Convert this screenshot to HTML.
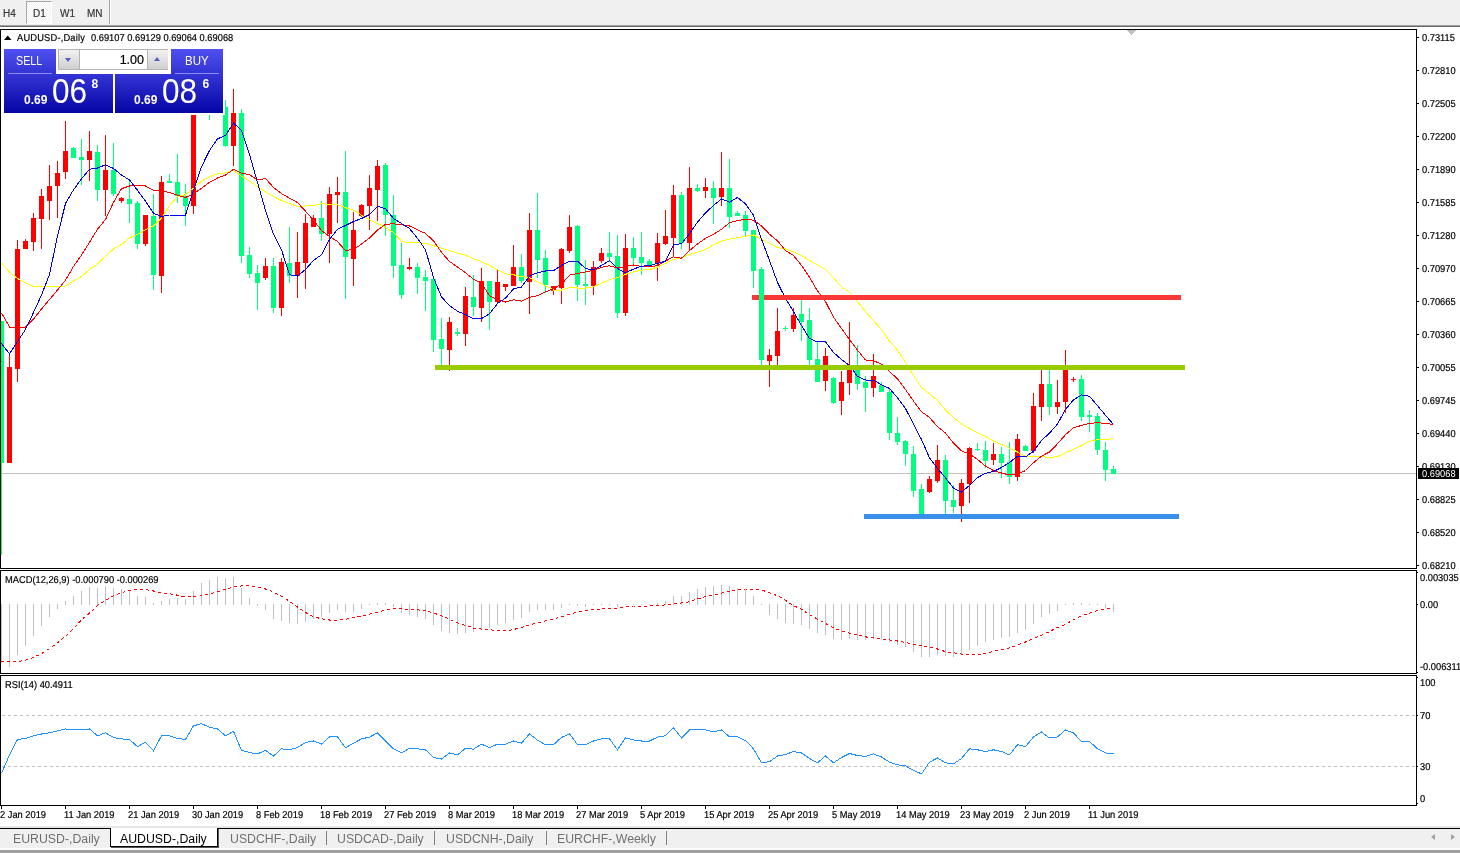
<!DOCTYPE html>
<html><head><meta charset="utf-8"><title>AUDUSD-,Daily</title>
<style>
html,body{margin:0;padding:0}
body{width:1460px;height:853px;position:relative;overflow:hidden;background:#fff;font-family:"Liberation Sans",sans-serif;font-size:9.3px;color:#000;-webkit-text-stroke:.2px currentColor}
.a{position:absolute;white-space:nowrap;line-height:1}
#tb{left:0;top:0;width:1460px;height:25px;background:#f0f0f0}
#tbl{left:0;top:25px;width:1460px;height:1px;background:#a0a0a0;border-bottom:1px solid #696969}
.tbt{top:8.5px;font-size:10px;color:#383838}
#d1{left:26px;top:1px;width:24px;height:21px;border:1px solid #a8a8a8;border-right-color:#fff;border-bottom-color:#fff;background:repeating-conic-gradient(#fff 0 25%,#f0f0f0 0 50%) 0 0/2px 2px}
#sep{left:109px;top:0;width:1px;height:24px;background:#a0a0a0;border-right:1px solid #fff}
svg{position:absolute;left:0;top:0}
.ax,.dt,#ttl,#ttl2,#mlab,#rlab{font-size:10px;text-rendering:geometricPrecision;transform:scaleX(.93);transform-origin:left center}
.ax{left:1422px}
.dt{top:810.8px}
#bb{left:0;top:826px;width:1460px;height:27px;background:#f0f0f0;border-top:2px solid #e6e6e6;box-sizing:border-box}
#bbl{left:0;top:828px;width:1460px;height:1px;background:#000}
#bbw{left:0;top:848px;width:1460px;height:2px;background:#fcfcfc}
#bbg{left:0;top:850px;width:1460px;height:3px;background:#a0a0a0}
.tab{-webkit-text-stroke:0;top:833px;font-size:12.3px;color:#707070}
#act{left:110px;top:828px;width:106px;height:18px;background:#fff;border:1px solid #000;border-top:none;box-shadow:1px 1px 0 #555}
.sp{top:831px;width:1px;height:14px;background:#808080}
.pn{background:linear-gradient(#5050f0,#0505a6)}
.w{color:#fff;-webkit-text-stroke:0}
.sx{transform-origin:left center}
</style></head><body>
<div class="a" id="tb"></div><div class="a" id="tbl"></div>
<div class="a" id="d1"></div>
<div class="a tbt" style="left:3px">H4</div>
<div class="a tbt" style="left:33px">D1</div>
<div class="a tbt" style="left:60px">W1</div>
<div class="a tbt" style="left:87px">MN</div>
<div class="a" id="sep"></div>
<div class="a" id="bb"></div><div class="a" id="bbl"></div><div class="a" id="bbw"></div><div class="a" id="bbg"></div>

<svg width="1460" height="853" viewBox="0 0 1460 853"><defs><clipPath id="cm"><rect x="1" y="30" width="1415" height="538"/></clipPath><clipPath id="c2"><rect x="1" y="571" width="1415" height="102"/></clipPath><clipPath id="c3"><rect x="1" y="676" width="1415" height="129"/></clipPath></defs><g shape-rendering="crispEdges"><rect x="0" y="29" width="1417" height="1" fill="#000"/><rect x="0" y="29" width="1" height="777" fill="#000"/><rect x="1416" y="29" width="1" height="777" fill="#000"/><rect x="0" y="568" width="1417" height="1" fill="#000"/><rect x="0" y="570" width="1417" height="1" fill="#000"/><rect x="0" y="673" width="1417" height="1" fill="#000"/><rect x="0" y="675" width="1417" height="1" fill="#000"/><rect x="0" y="805" width="1417" height="1" fill="#000"/><rect x="0" y="569" width="1418" height="1" fill="#fff"/><rect x="0" y="674" width="1418" height="1" fill="#fff"/><rect x="1" y="473" width="1415" height="1" fill="#c0c0c0"/><polygon points="1126.5,30 1136.5,30 1131.5,35" fill="#c0c0c0"/><polygon points="4,40 11.5,40 7.75,35.5" fill="#000" shape-rendering="auto"/><g clip-path="url(#cm)"><rect x="1" y="321" width="1" height="234" fill="#00ff7f"/><rect x="-1" y="321" width="5" height="142" fill="#00ff7f"/><rect x="9" y="353" width="1" height="110" fill="#ff0000"/><rect x="7" y="367" width="5" height="96" fill="#ff0000"/><rect x="17" y="240" width="1" height="142" fill="#ff0000"/><rect x="15" y="249" width="5" height="120" fill="#ff0000"/><rect x="25" y="239" width="1" height="10" fill="#ff0000"/><rect x="23" y="241" width="5" height="8" fill="#ff0000"/><rect x="33" y="213" width="1" height="38" fill="#ff0000"/><rect x="31" y="218" width="5" height="24" fill="#ff0000"/><rect x="41" y="189" width="1" height="60" fill="#ff0000"/><rect x="39" y="196" width="5" height="23" fill="#ff0000"/><rect x="49" y="165" width="1" height="55" fill="#ff0000"/><rect x="47" y="186" width="5" height="15" fill="#ff0000"/><rect x="57" y="161" width="1" height="57" fill="#ff0000"/><rect x="55" y="173" width="5" height="13" fill="#ff0000"/><rect x="65" y="121" width="1" height="58" fill="#ff0000"/><rect x="63" y="151" width="5" height="21" fill="#ff0000"/><rect x="73" y="147" width="1" height="11" fill="#00ff7f"/><rect x="71" y="148" width="5" height="10" fill="#00ff7f"/><rect x="81" y="139" width="1" height="46" fill="#00ff7f"/><rect x="79" y="157" width="5" height="3" fill="#00ff7f"/><rect x="89" y="131" width="1" height="50" fill="#ff0000"/><rect x="87" y="151" width="5" height="9" fill="#ff0000"/><rect x="97" y="145" width="1" height="56" fill="#00ff7f"/><rect x="95" y="152" width="5" height="38" fill="#00ff7f"/><rect x="105" y="135" width="1" height="81" fill="#ff0000"/><rect x="103" y="170" width="5" height="20" fill="#ff0000"/><rect x="113" y="143" width="1" height="53" fill="#00ff7f"/><rect x="111" y="170" width="5" height="24" fill="#00ff7f"/><rect x="121" y="197" width="1" height="6" fill="#ff0000"/><rect x="119" y="198" width="5" height="3" fill="#ff0000"/><rect x="129" y="180" width="1" height="43" fill="#00ff7f"/><rect x="127" y="199" width="5" height="5" fill="#00ff7f"/><rect x="137" y="201" width="1" height="48" fill="#00ff7f"/><rect x="135" y="203" width="5" height="41" fill="#00ff7f"/><rect x="145" y="215" width="1" height="31" fill="#ff0000"/><rect x="143" y="215" width="5" height="29" fill="#ff0000"/><rect x="153" y="194" width="1" height="96" fill="#00ff7f"/><rect x="151" y="216" width="5" height="59" fill="#00ff7f"/><rect x="161" y="176" width="1" height="117" fill="#ff0000"/><rect x="159" y="182" width="5" height="94" fill="#ff0000"/><rect x="169" y="174" width="1" height="9" fill="#00ff7f"/><rect x="167" y="181" width="5" height="2" fill="#00ff7f"/><rect x="177" y="154" width="1" height="49" fill="#00ff7f"/><rect x="175" y="182" width="5" height="14" fill="#00ff7f"/><rect x="185" y="184" width="1" height="42" fill="#00ff7f"/><rect x="183" y="196" width="5" height="10" fill="#00ff7f"/><rect x="193" y="100" width="1" height="114" fill="#ff0000"/><rect x="191" y="105" width="5" height="101" fill="#ff0000"/><rect x="201" y="95" width="1" height="13" fill="#00ff7f"/><rect x="199" y="100" width="5" height="4" fill="#00ff7f"/><rect x="209" y="98" width="1" height="22" fill="#00ff7f"/><rect x="207" y="104" width="5" height="4" fill="#00ff7f"/><rect x="217" y="96" width="1" height="14" fill="#00ff7f"/><rect x="215" y="106" width="5" height="2" fill="#00ff7f"/><rect x="225" y="100" width="1" height="47" fill="#00ff7f"/><rect x="223" y="107" width="5" height="39" fill="#00ff7f"/><rect x="233" y="89" width="1" height="77" fill="#ff0000"/><rect x="231" y="113" width="5" height="33" fill="#ff0000"/><rect x="241" y="109" width="1" height="154" fill="#00ff7f"/><rect x="239" y="113" width="5" height="143" fill="#00ff7f"/><rect x="249" y="247" width="1" height="31" fill="#00ff7f"/><rect x="247" y="255" width="5" height="19" fill="#00ff7f"/><rect x="257" y="265" width="1" height="45" fill="#00ff7f"/><rect x="255" y="273" width="5" height="10" fill="#00ff7f"/><rect x="265" y="258" width="1" height="22" fill="#ff0000"/><rect x="263" y="266" width="5" height="12" fill="#ff0000"/><rect x="273" y="258" width="1" height="55" fill="#00ff7f"/><rect x="271" y="266" width="5" height="42" fill="#00ff7f"/><rect x="281" y="258" width="1" height="58" fill="#ff0000"/><rect x="279" y="262" width="5" height="46" fill="#ff0000"/><rect x="289" y="227" width="1" height="56" fill="#00ff7f"/><rect x="287" y="263" width="5" height="13" fill="#00ff7f"/><rect x="297" y="232" width="1" height="66" fill="#ff0000"/><rect x="295" y="262" width="5" height="14" fill="#ff0000"/><rect x="305" y="214" width="1" height="75" fill="#ff0000"/><rect x="303" y="223" width="5" height="40" fill="#ff0000"/><rect x="313" y="215" width="1" height="12" fill="#ff0000"/><rect x="311" y="218" width="5" height="9" fill="#ff0000"/><rect x="321" y="201" width="1" height="40" fill="#00ff7f"/><rect x="319" y="218" width="5" height="16" fill="#00ff7f"/><rect x="329" y="187" width="1" height="76" fill="#ff0000"/><rect x="327" y="194" width="5" height="40" fill="#ff0000"/><rect x="337" y="177" width="1" height="46" fill="#ff0000"/><rect x="335" y="192" width="5" height="3" fill="#ff0000"/><rect x="345" y="151" width="1" height="148" fill="#00ff7f"/><rect x="343" y="192" width="5" height="65" fill="#00ff7f"/><rect x="353" y="212" width="1" height="74" fill="#ff0000"/><rect x="351" y="230" width="5" height="29" fill="#ff0000"/><rect x="361" y="204" width="1" height="13" fill="#ff0000"/><rect x="359" y="205" width="5" height="11" fill="#ff0000"/><rect x="369" y="175" width="1" height="55" fill="#ff0000"/><rect x="367" y="188" width="5" height="18" fill="#ff0000"/><rect x="377" y="160" width="1" height="61" fill="#ff0000"/><rect x="375" y="166" width="5" height="24" fill="#ff0000"/><rect x="385" y="163" width="1" height="73" fill="#00ff7f"/><rect x="383" y="165" width="5" height="50" fill="#00ff7f"/><rect x="393" y="195" width="1" height="83" fill="#00ff7f"/><rect x="391" y="215" width="5" height="51" fill="#00ff7f"/><rect x="401" y="243" width="1" height="56" fill="#00ff7f"/><rect x="399" y="265" width="5" height="30" fill="#00ff7f"/><rect x="409" y="258" width="1" height="12" fill="#ff0000"/><rect x="407" y="267" width="5" height="2" fill="#ff0000"/><rect x="417" y="263" width="1" height="31" fill="#00ff7f"/><rect x="415" y="267" width="5" height="11" fill="#00ff7f"/><rect x="425" y="270" width="1" height="41" fill="#00ff7f"/><rect x="423" y="277" width="5" height="4" fill="#00ff7f"/><rect x="433" y="279" width="1" height="73" fill="#00ff7f"/><rect x="431" y="279" width="5" height="61" fill="#00ff7f"/><rect x="441" y="318" width="1" height="47" fill="#00ff7f"/><rect x="439" y="339" width="5" height="10" fill="#00ff7f"/><rect x="449" y="317" width="1" height="54" fill="#ff0000"/><rect x="447" y="322" width="5" height="28" fill="#ff0000"/><rect x="457" y="328" width="1" height="8" fill="#00ff7f"/><rect x="455" y="332" width="5" height="2" fill="#00ff7f"/><rect x="465" y="287" width="1" height="59" fill="#ff0000"/><rect x="463" y="296" width="5" height="38" fill="#ff0000"/><rect x="473" y="275" width="1" height="41" fill="#00ff7f"/><rect x="471" y="297" width="5" height="10" fill="#00ff7f"/><rect x="481" y="268" width="1" height="54" fill="#ff0000"/><rect x="479" y="281" width="5" height="27" fill="#ff0000"/><rect x="489" y="281" width="1" height="49" fill="#00ff7f"/><rect x="487" y="281" width="5" height="21" fill="#00ff7f"/><rect x="497" y="270" width="1" height="33" fill="#ff0000"/><rect x="495" y="282" width="5" height="20" fill="#ff0000"/><rect x="505" y="284" width="1" height="7" fill="#ff0000"/><rect x="503" y="284" width="5" height="3" fill="#ff0000"/><rect x="513" y="245" width="1" height="41" fill="#ff0000"/><rect x="511" y="267" width="5" height="19" fill="#ff0000"/><rect x="521" y="254" width="1" height="29" fill="#00ff7f"/><rect x="519" y="267" width="5" height="14" fill="#00ff7f"/><rect x="529" y="213" width="1" height="101" fill="#ff0000"/><rect x="527" y="230" width="5" height="52" fill="#ff0000"/><rect x="537" y="193" width="1" height="85" fill="#00ff7f"/><rect x="535" y="230" width="5" height="30" fill="#00ff7f"/><rect x="545" y="250" width="1" height="43" fill="#00ff7f"/><rect x="543" y="258" width="5" height="27" fill="#00ff7f"/><rect x="553" y="286" width="1" height="9" fill="#ff0000"/><rect x="551" y="286" width="5" height="5" fill="#ff0000"/><rect x="561" y="248" width="1" height="56" fill="#ff0000"/><rect x="559" y="249" width="5" height="39" fill="#ff0000"/><rect x="569" y="215" width="1" height="38" fill="#ff0000"/><rect x="567" y="227" width="5" height="24" fill="#ff0000"/><rect x="577" y="225" width="1" height="76" fill="#00ff7f"/><rect x="575" y="226" width="5" height="59" fill="#00ff7f"/><rect x="585" y="260" width="1" height="45" fill="#00ff7f"/><rect x="583" y="284" width="5" height="2" fill="#00ff7f"/><rect x="593" y="261" width="1" height="34" fill="#ff0000"/><rect x="591" y="267" width="5" height="19" fill="#ff0000"/><rect x="601" y="248" width="1" height="15" fill="#ff0000"/><rect x="599" y="253" width="5" height="8" fill="#ff0000"/><rect x="609" y="232" width="1" height="30" fill="#00ff7f"/><rect x="607" y="253" width="5" height="4" fill="#00ff7f"/><rect x="617" y="235" width="1" height="83" fill="#00ff7f"/><rect x="615" y="256" width="5" height="57" fill="#00ff7f"/><rect x="625" y="234" width="1" height="82" fill="#ff0000"/><rect x="623" y="248" width="5" height="65" fill="#ff0000"/><rect x="633" y="237" width="1" height="27" fill="#00ff7f"/><rect x="631" y="248" width="5" height="10" fill="#00ff7f"/><rect x="641" y="232" width="1" height="43" fill="#00ff7f"/><rect x="639" y="257" width="5" height="6" fill="#00ff7f"/><rect x="649" y="259" width="1" height="8" fill="#00ff7f"/><rect x="647" y="261" width="5" height="5" fill="#00ff7f"/><rect x="657" y="233" width="1" height="48" fill="#ff0000"/><rect x="655" y="243" width="5" height="20" fill="#ff0000"/><rect x="665" y="210" width="1" height="35" fill="#ff0000"/><rect x="663" y="236" width="5" height="8" fill="#ff0000"/><rect x="673" y="185" width="1" height="72" fill="#ff0000"/><rect x="671" y="195" width="5" height="43" fill="#ff0000"/><rect x="681" y="192" width="1" height="57" fill="#00ff7f"/><rect x="679" y="195" width="5" height="48" fill="#00ff7f"/><rect x="689" y="167" width="1" height="83" fill="#ff0000"/><rect x="687" y="188" width="5" height="55" fill="#ff0000"/><rect x="697" y="184" width="1" height="8" fill="#00ff7f"/><rect x="695" y="188" width="5" height="3" fill="#00ff7f"/><rect x="705" y="178" width="1" height="20" fill="#ff0000"/><rect x="703" y="187" width="5" height="4" fill="#ff0000"/><rect x="713" y="181" width="1" height="43" fill="#00ff7f"/><rect x="711" y="188" width="5" height="10" fill="#00ff7f"/><rect x="721" y="152" width="1" height="54" fill="#ff0000"/><rect x="719" y="188" width="5" height="9" fill="#ff0000"/><rect x="729" y="159" width="1" height="69" fill="#00ff7f"/><rect x="727" y="188" width="5" height="29" fill="#00ff7f"/><rect x="737" y="211" width="1" height="5" fill="#00ff7f"/><rect x="735" y="213" width="5" height="3" fill="#00ff7f"/><rect x="745" y="211" width="1" height="26" fill="#00ff7f"/><rect x="743" y="215" width="5" height="16" fill="#00ff7f"/><rect x="753" y="230" width="1" height="58" fill="#00ff7f"/><rect x="751" y="230" width="5" height="41" fill="#00ff7f"/><rect x="761" y="267" width="1" height="98" fill="#00ff7f"/><rect x="759" y="269" width="5" height="91" fill="#00ff7f"/><rect x="769" y="349" width="1" height="38" fill="#ff0000"/><rect x="767" y="355" width="5" height="6" fill="#ff0000"/><rect x="777" y="308" width="1" height="57" fill="#ff0000"/><rect x="775" y="331" width="5" height="25" fill="#ff0000"/><rect x="785" y="326" width="1" height="5" fill="#00ff7f"/><rect x="783" y="328" width="5" height="1" fill="#00ff7f"/><rect x="793" y="308" width="1" height="24" fill="#ff0000"/><rect x="791" y="315" width="5" height="14" fill="#ff0000"/><rect x="801" y="300" width="1" height="41" fill="#00ff7f"/><rect x="799" y="314" width="5" height="8" fill="#00ff7f"/><rect x="809" y="308" width="1" height="57" fill="#00ff7f"/><rect x="807" y="320" width="5" height="40" fill="#00ff7f"/><rect x="817" y="342" width="1" height="40" fill="#00ff7f"/><rect x="815" y="359" width="5" height="23" fill="#00ff7f"/><rect x="825" y="348" width="1" height="43" fill="#ff0000"/><rect x="823" y="356" width="5" height="25" fill="#ff0000"/><rect x="833" y="377" width="1" height="27" fill="#00ff7f"/><rect x="831" y="378" width="5" height="25" fill="#00ff7f"/><rect x="841" y="371" width="1" height="44" fill="#ff0000"/><rect x="839" y="382" width="5" height="19" fill="#ff0000"/><rect x="849" y="322" width="1" height="73" fill="#ff0000"/><rect x="847" y="366" width="5" height="17" fill="#ff0000"/><rect x="857" y="345" width="1" height="45" fill="#00ff7f"/><rect x="855" y="366" width="5" height="18" fill="#00ff7f"/><rect x="865" y="376" width="1" height="36" fill="#00ff7f"/><rect x="863" y="382" width="5" height="6" fill="#00ff7f"/><rect x="873" y="354" width="1" height="43" fill="#ff0000"/><rect x="871" y="376" width="5" height="12" fill="#ff0000"/><rect x="881" y="382" width="1" height="10" fill="#00ff7f"/><rect x="879" y="385" width="5" height="7" fill="#00ff7f"/><rect x="889" y="389" width="1" height="51" fill="#00ff7f"/><rect x="887" y="392" width="5" height="41" fill="#00ff7f"/><rect x="897" y="417" width="1" height="28" fill="#00ff7f"/><rect x="895" y="433" width="5" height="9" fill="#00ff7f"/><rect x="905" y="440" width="1" height="26" fill="#00ff7f"/><rect x="903" y="441" width="5" height="13" fill="#00ff7f"/><rect x="913" y="446" width="1" height="51" fill="#00ff7f"/><rect x="911" y="454" width="5" height="37" fill="#00ff7f"/><rect x="921" y="484" width="1" height="32" fill="#00ff7f"/><rect x="919" y="489" width="5" height="27" fill="#00ff7f"/><rect x="929" y="476" width="1" height="17" fill="#ff0000"/><rect x="927" y="479" width="5" height="13" fill="#ff0000"/><rect x="937" y="445" width="1" height="38" fill="#ff0000"/><rect x="935" y="460" width="5" height="21" fill="#ff0000"/><rect x="945" y="455" width="1" height="60" fill="#00ff7f"/><rect x="943" y="460" width="5" height="41" fill="#00ff7f"/><rect x="953" y="485" width="1" height="28" fill="#00ff7f"/><rect x="951" y="500" width="5" height="7" fill="#00ff7f"/><rect x="961" y="479" width="1" height="43" fill="#ff0000"/><rect x="959" y="483" width="5" height="23" fill="#ff0000"/><rect x="969" y="447" width="1" height="56" fill="#ff0000"/><rect x="967" y="448" width="5" height="36" fill="#ff0000"/><rect x="977" y="443" width="1" height="8" fill="#00ff7f"/><rect x="975" y="449" width="5" height="1" fill="#00ff7f"/><rect x="985" y="441" width="1" height="27" fill="#00ff7f"/><rect x="983" y="450" width="5" height="11" fill="#00ff7f"/><rect x="993" y="443" width="1" height="22" fill="#ff0000"/><rect x="991" y="454" width="5" height="6" fill="#ff0000"/><rect x="1001" y="447" width="1" height="31" fill="#00ff7f"/><rect x="999" y="454" width="5" height="9" fill="#00ff7f"/><rect x="1009" y="442" width="1" height="42" fill="#00ff7f"/><rect x="1007" y="462" width="5" height="15" fill="#00ff7f"/><rect x="1017" y="434" width="1" height="47" fill="#ff0000"/><rect x="1015" y="439" width="5" height="38" fill="#ff0000"/><rect x="1025" y="445" width="1" height="6" fill="#00ff7f"/><rect x="1023" y="446" width="5" height="5" fill="#00ff7f"/><rect x="1033" y="393" width="1" height="60" fill="#ff0000"/><rect x="1031" y="406" width="5" height="45" fill="#ff0000"/><rect x="1041" y="366" width="1" height="55" fill="#ff0000"/><rect x="1039" y="384" width="5" height="23" fill="#ff0000"/><rect x="1049" y="366" width="1" height="49" fill="#00ff7f"/><rect x="1047" y="384" width="5" height="23" fill="#00ff7f"/><rect x="1057" y="380" width="1" height="34" fill="#ff0000"/><rect x="1055" y="402" width="5" height="5" fill="#ff0000"/><rect x="1065" y="350" width="1" height="63" fill="#ff0000"/><rect x="1063" y="368" width="5" height="34" fill="#ff0000"/><rect x="1073" y="377" width="1" height="5" fill="#ff0000"/><rect x="1071" y="379" width="5" height="1" fill="#ff0000"/><rect x="1081" y="375" width="1" height="46" fill="#00ff7f"/><rect x="1079" y="379" width="5" height="38" fill="#00ff7f"/><rect x="1089" y="410" width="1" height="22" fill="#00ff7f"/><rect x="1087" y="415" width="5" height="2" fill="#00ff7f"/><rect x="1097" y="413" width="1" height="42" fill="#00ff7f"/><rect x="1095" y="416" width="5" height="34" fill="#00ff7f"/><rect x="1105" y="442" width="1" height="39" fill="#00ff7f"/><rect x="1103" y="450" width="5" height="20" fill="#00ff7f"/><rect x="1113" y="466" width="1" height="8" fill="#00ff7f"/><rect x="1111" y="469" width="5" height="5" fill="#00ff7f"/><polyline points="1.5,263.0 9.5,272.0 17.5,278.5 25.5,282.7 33.5,286.5 41.5,286.5 49.5,286.5 57.5,286.5 65.5,286.0 73.5,281.0 81.5,276.5 89.5,269.5 97.5,263.8 105.5,256.4 113.5,249.0 121.5,244.5 129.5,238.0 137.5,234.2 145.5,229.8 153.5,226.0 161.5,218.1 169.5,205.5 177.5,196.4 185.5,194.8 193.5,188.2 201.5,181.1 209.5,176.7 217.5,173.9 225.5,172.9 233.5,170.5 241.5,176.2 249.5,181.1 257.5,186.5 265.5,192.0 273.5,196.4 281.5,200.5 289.5,203.5 297.5,206.5 305.5,206.0 313.5,205.8 321.5,203.5 329.5,204.7 337.5,204.7 345.5,207.7 353.5,210.2 361.5,215.1 369.5,219.9 377.5,223.5 385.5,227.5 393.5,232.5 401.5,241.3 409.5,242.9 417.5,242.9 425.5,243.2 433.5,245.7 441.5,248.2 449.5,250.5 457.5,253.2 465.5,255.1 473.5,258.7 481.5,261.7 489.5,265.3 497.5,269.9 505.5,273.8 513.5,274.8 521.5,276.5 529.5,277.6 537.5,281.7 545.5,285.8 553.5,290.0 561.5,290.0 569.5,287.5 577.5,288.0 585.5,288.0 593.5,286.7 601.5,283.4 609.5,279.8 617.5,277.6 625.5,274.3 633.5,271.9 641.5,270.1 649.5,269.7 657.5,267.0 665.5,263.5 673.5,259.3 681.5,258.2 689.5,254.5 697.5,252.3 705.5,249.3 713.5,244.9 721.5,241.1 729.5,239.1 737.5,237.8 745.5,236.3 753.5,235.0 761.5,239.1 769.5,243.2 777.5,247.5 785.5,249.0 793.5,252.0 801.5,255.5 809.5,260.5 817.5,264.7 825.5,269.5 833.5,277.7 841.5,286.8 849.5,292.1 857.5,301.5 865.5,311.5 873.5,320.5 881.5,329.5 889.5,341.1 897.5,350.1 905.5,362.5 913.5,375.5 921.5,387.5 929.5,393.7 937.5,400.5 945.5,410.1 953.5,417.5 961.5,424.1 969.5,428.5 977.5,432.8 985.5,436.4 993.5,441.0 1001.5,444.5 1009.5,448.2 1017.5,452.0 1025.5,456.5 1033.5,456.9 1041.5,456.5 1049.5,457.8 1057.5,456.5 1065.5,452.8 1073.5,449.2 1081.5,445.5 1089.5,441.3 1097.5,439.7 1105.5,439.5 1113.5,438.8" fill="none" stroke="#ffff00" stroke-width="1" /><polyline points="1.5,312.8 9.5,327.0 17.5,327.0 25.5,327.0 33.5,319.0 41.5,309.0 49.5,299.5 57.5,290.1 65.5,280.2 73.5,266.5 81.5,255.0 89.5,242.3 97.5,229.3 105.5,219.5 113.5,202.3 121.5,188.7 129.5,186.0 137.5,185.7 145.5,186.0 153.5,190.3 161.5,191.0 169.5,192.5 177.5,195.2 185.5,197.5 193.5,193.9 201.5,188.2 209.5,182.4 217.5,178.0 225.5,175.0 233.5,169.3 241.5,173.1 249.5,174.7 257.5,180.0 265.5,178.5 273.5,187.4 281.5,193.5 289.5,198.2 297.5,202.5 305.5,211.2 313.5,220.2 321.5,230.5 329.5,236.5 337.5,241.5 345.5,250.5 353.5,249.5 361.5,244.1 369.5,238.0 377.5,230.1 385.5,224.3 393.5,223.8 401.5,224.8 409.5,226.0 417.5,229.8 425.5,233.4 433.5,240.8 441.5,252.3 449.5,261.5 457.5,267.0 465.5,272.7 473.5,279.3 481.5,283.4 489.5,295.7 497.5,299.5 505.5,302.0 513.5,299.8 521.5,301.1 529.5,297.4 537.5,295.7 545.5,291.9 553.5,288.6 561.5,284.2 569.5,275.2 577.5,273.5 585.5,271.9 593.5,270.2 601.5,267.4 609.5,265.8 617.5,267.8 625.5,266.6 633.5,265.0 641.5,266.5 649.5,266.9 657.5,265.6 665.5,261.0 673.5,256.9 681.5,258.2 689.5,250.5 697.5,244.0 705.5,238.3 713.5,234.2 721.5,229.3 729.5,222.7 737.5,220.5 745.5,219.4 753.5,220.2 761.5,226.0 769.5,234.2 777.5,240.8 785.5,250.5 793.5,255.5 801.5,265.4 809.5,277.3 817.5,290.9 825.5,301.5 833.5,317.2 841.5,328.5 849.5,339.5 857.5,350.1 865.5,360.0 873.5,360.8 881.5,364.1 889.5,371.5 897.5,378.9 905.5,389.5 913.5,401.0 921.5,411.7 929.5,417.5 937.5,426.5 945.5,433.1 953.5,443.0 961.5,450.9 969.5,454.1 977.5,459.4 985.5,466.0 993.5,470.5 1001.5,473.0 1009.5,475.0 1017.5,474.2 1025.5,470.5 1033.5,462.7 1041.5,456.1 1049.5,452.0 1057.5,443.8 1065.5,434.7 1073.5,427.8 1081.5,425.4 1089.5,423.5 1097.5,422.7 1105.5,423.5 1113.5,424.5" fill="none" stroke="#ff0000" stroke-width="1" /><polyline points="1.5,343.5 9.5,353.9 17.5,341.5 25.5,329.5 33.5,312.5 41.5,295.0 49.5,274.5 57.5,235.8 65.5,203.5 73.5,189.8 81.5,178.8 89.5,169.3 97.5,168.0 105.5,164.8 113.5,168.5 121.5,175.0 129.5,180.0 137.5,190.3 145.5,201.3 153.5,213.3 161.5,216.5 169.5,215.0 177.5,215.0 185.5,215.0 193.5,190.5 201.5,166.8 209.5,150.4 217.5,138.9 225.5,135.5 233.5,122.9 241.5,130.5 249.5,154.5 257.5,182.5 265.5,210.5 273.5,234.2 281.5,249.8 289.5,274.8 297.5,276.1 305.5,269.5 313.5,260.5 321.5,254.7 329.5,239.5 337.5,229.3 345.5,225.5 353.5,221.5 361.5,218.5 369.5,214.5 377.5,206.3 385.5,208.7 393.5,218.5 401.5,223.5 409.5,228.5 417.5,238.3 425.5,249.8 433.5,277.5 441.5,297.0 449.5,305.5 457.5,311.3 465.5,314.5 473.5,318.7 481.5,318.7 489.5,313.8 497.5,303.5 505.5,298.2 513.5,288.8 521.5,287.0 529.5,276.0 537.5,272.7 545.5,271.0 553.5,270.7 561.5,265.5 569.5,261.2 577.5,261.2 585.5,268.5 593.5,269.9 601.5,265.5 609.5,260.7 617.5,268.5 625.5,272.7 633.5,269.1 641.5,266.1 649.5,265.8 657.5,263.3 665.5,261.2 673.5,245.0 681.5,243.6 689.5,233.7 697.5,222.2 705.5,212.8 713.5,205.5 721.5,198.9 729.5,202.1 737.5,197.5 745.5,203.8 753.5,215.3 761.5,239.1 769.5,260.5 777.5,282.5 785.5,298.3 793.5,311.5 801.5,325.5 809.5,338.5 817.5,341.9 825.5,341.9 833.5,352.5 841.5,359.5 849.5,365.5 857.5,376.4 865.5,380.0 873.5,380.2 881.5,384.7 889.5,388.5 897.5,397.8 905.5,408.5 913.5,424.1 921.5,439.5 929.5,457.8 937.5,468.5 945.5,477.8 953.5,488.2 961.5,492.0 969.5,485.5 977.5,477.5 985.5,473.4 993.5,471.5 1001.5,467.5 1009.5,462.5 1017.5,456.1 1025.5,456.9 1033.5,451.2 1041.5,440.5 1049.5,433.1 1057.5,424.1 1065.5,409.3 1073.5,399.9 1081.5,394.9 1089.5,396.3 1097.5,405.7 1105.5,415.3 1113.5,424.5" fill="none" stroke="#0000e6" stroke-width="1" /><rect x="752" y="295" width="429" height="5" fill="#fa3838"/><rect x="761" y="267" width="1" height="98" fill="#00ff7f"/><rect x="759" y="269" width="5" height="91" fill="#00ff7f"/><rect x="435" y="365" width="750" height="5" fill="#99cc00"/><rect x="864" y="514" width="315" height="5" fill="#3890e8"/></g><g clip-path="url(#c2)"><rect x="1" y="604" width="1" height="59" fill="#c0c0c0"/><rect x="9" y="604" width="1" height="63" fill="#c0c0c0"/><rect x="17" y="604" width="1" height="51" fill="#c0c0c0"/><rect x="25" y="604" width="1" height="42" fill="#c0c0c0"/><rect x="33" y="604" width="1" height="32" fill="#c0c0c0"/><rect x="41" y="604" width="1" height="22" fill="#c0c0c0"/><rect x="49" y="604" width="1" height="13" fill="#c0c0c0"/><rect x="57" y="604" width="1" height="5" fill="#c0c0c0"/><rect x="65" y="601" width="1" height="4" fill="#c0c0c0"/><rect x="73" y="596" width="1" height="9" fill="#c0c0c0"/><rect x="81" y="591" width="1" height="14" fill="#c0c0c0"/><rect x="89" y="587" width="1" height="18" fill="#c0c0c0"/><rect x="97" y="588" width="1" height="17" fill="#c0c0c0"/><rect x="105" y="586" width="1" height="19" fill="#c0c0c0"/><rect x="113" y="588" width="1" height="17" fill="#c0c0c0"/><rect x="121" y="589" width="1" height="16" fill="#c0c0c0"/><rect x="129" y="591" width="1" height="14" fill="#c0c0c0"/><rect x="137" y="596" width="1" height="9" fill="#c0c0c0"/><rect x="145" y="597" width="1" height="8" fill="#c0c0c0"/><rect x="153" y="603" width="1" height="2" fill="#c0c0c0"/><rect x="161" y="601" width="1" height="4" fill="#c0c0c0"/><rect x="169" y="599" width="1" height="6" fill="#c0c0c0"/><rect x="177" y="598" width="1" height="7" fill="#c0c0c0"/><rect x="185" y="599" width="1" height="6" fill="#c0c0c0"/><rect x="193" y="591" width="1" height="14" fill="#c0c0c0"/><rect x="201" y="583" width="1" height="22" fill="#c0c0c0"/><rect x="209" y="580" width="1" height="25" fill="#c0c0c0"/><rect x="217" y="577" width="1" height="28" fill="#c0c0c0"/><rect x="225" y="578" width="1" height="27" fill="#c0c0c0"/><rect x="233" y="577" width="1" height="28" fill="#c0c0c0"/><rect x="241" y="588" width="1" height="17" fill="#c0c0c0"/><rect x="249" y="598" width="1" height="7" fill="#c0c0c0"/><rect x="257" y="604" width="1" height="2" fill="#c0c0c0"/><rect x="265" y="604" width="1" height="6" fill="#c0c0c0"/><rect x="273" y="604" width="1" height="15" fill="#c0c0c0"/><rect x="281" y="604" width="1" height="17" fill="#c0c0c0"/><rect x="289" y="604" width="1" height="19" fill="#c0c0c0"/><rect x="297" y="604" width="1" height="20" fill="#c0c0c0"/><rect x="305" y="604" width="1" height="18" fill="#c0c0c0"/><rect x="313" y="604" width="1" height="15" fill="#c0c0c0"/><rect x="321" y="604" width="1" height="13" fill="#c0c0c0"/><rect x="329" y="604" width="1" height="9" fill="#c0c0c0"/><rect x="337" y="604" width="1" height="6" fill="#c0c0c0"/><rect x="345" y="604" width="1" height="8" fill="#c0c0c0"/><rect x="353" y="604" width="1" height="8" fill="#c0c0c0"/><rect x="361" y="604" width="1" height="5" fill="#c0c0c0"/><rect x="369" y="604" width="1" height="1" fill="#c0c0c0"/><rect x="377" y="603" width="1" height="2" fill="#c0c0c0"/><rect x="385" y="603" width="1" height="2" fill="#c0c0c0"/><rect x="393" y="604" width="1" height="3" fill="#c0c0c0"/><rect x="401" y="604" width="1" height="9" fill="#c0c0c0"/><rect x="409" y="604" width="1" height="11" fill="#c0c0c0"/><rect x="417" y="604" width="1" height="13" fill="#c0c0c0"/><rect x="425" y="604" width="1" height="15" fill="#c0c0c0"/><rect x="433" y="604" width="1" height="21" fill="#c0c0c0"/><rect x="441" y="604" width="1" height="27" fill="#c0c0c0"/><rect x="449" y="604" width="1" height="29" fill="#c0c0c0"/><rect x="457" y="604" width="1" height="30" fill="#c0c0c0"/><rect x="465" y="604" width="1" height="29" fill="#c0c0c0"/><rect x="473" y="604" width="1" height="28" fill="#c0c0c0"/><rect x="481" y="604" width="1" height="25" fill="#c0c0c0"/><rect x="489" y="604" width="1" height="24" fill="#c0c0c0"/><rect x="497" y="604" width="1" height="21" fill="#c0c0c0"/><rect x="505" y="604" width="1" height="19" fill="#c0c0c0"/><rect x="513" y="604" width="1" height="16" fill="#c0c0c0"/><rect x="521" y="604" width="1" height="14" fill="#c0c0c0"/><rect x="529" y="604" width="1" height="8" fill="#c0c0c0"/><rect x="537" y="604" width="1" height="6" fill="#c0c0c0"/><rect x="545" y="604" width="1" height="6" fill="#c0c0c0"/><rect x="553" y="604" width="1" height="6" fill="#c0c0c0"/><rect x="561" y="604" width="1" height="4" fill="#c0c0c0"/><rect x="569" y="604" width="1" height="1" fill="#c0c0c0"/><rect x="577" y="604" width="1" height="2" fill="#c0c0c0"/><rect x="585" y="604" width="1" height="3" fill="#c0c0c0"/><rect x="593" y="604" width="1" height="1" fill="#c0c0c0"/><rect x="601" y="604" width="1" height="1" fill="#c0c0c0"/><rect x="609" y="604" width="1" height="1" fill="#c0c0c0"/><rect x="617" y="604" width="1" height="3" fill="#c0c0c0"/><rect x="625" y="604" width="1" height="1" fill="#c0c0c0"/><rect x="633" y="604" width="1" height="1" fill="#c0c0c0"/><rect x="641" y="604" width="1" height="1" fill="#c0c0c0"/><rect x="649" y="604" width="1" height="1" fill="#c0c0c0"/><rect x="657" y="603" width="1" height="2" fill="#c0c0c0"/><rect x="665" y="601" width="1" height="4" fill="#c0c0c0"/><rect x="673" y="596" width="1" height="9" fill="#c0c0c0"/><rect x="681" y="596" width="1" height="9" fill="#c0c0c0"/><rect x="689" y="592" width="1" height="13" fill="#c0c0c0"/><rect x="697" y="589" width="1" height="16" fill="#c0c0c0"/><rect x="705" y="587" width="1" height="18" fill="#c0c0c0"/><rect x="713" y="586" width="1" height="19" fill="#c0c0c0"/><rect x="721" y="585" width="1" height="20" fill="#c0c0c0"/><rect x="729" y="586" width="1" height="19" fill="#c0c0c0"/><rect x="737" y="588" width="1" height="17" fill="#c0c0c0"/><rect x="745" y="590" width="1" height="15" fill="#c0c0c0"/><rect x="753" y="596" width="1" height="9" fill="#c0c0c0"/><rect x="761" y="604" width="1" height="1" fill="#c0c0c0"/><rect x="769" y="604" width="1" height="11" fill="#c0c0c0"/><rect x="777" y="604" width="1" height="15" fill="#c0c0c0"/><rect x="785" y="604" width="1" height="19" fill="#c0c0c0"/><rect x="793" y="604" width="1" height="20" fill="#c0c0c0"/><rect x="801" y="604" width="1" height="21" fill="#c0c0c0"/><rect x="809" y="604" width="1" height="25" fill="#c0c0c0"/><rect x="817" y="604" width="1" height="29" fill="#c0c0c0"/><rect x="825" y="604" width="1" height="31" fill="#c0c0c0"/><rect x="833" y="604" width="1" height="35" fill="#c0c0c0"/><rect x="841" y="604" width="1" height="36" fill="#c0c0c0"/><rect x="849" y="604" width="1" height="35" fill="#c0c0c0"/><rect x="857" y="604" width="1" height="36" fill="#c0c0c0"/><rect x="865" y="604" width="1" height="36" fill="#c0c0c0"/><rect x="873" y="604" width="1" height="35" fill="#c0c0c0"/><rect x="881" y="604" width="1" height="35" fill="#c0c0c0"/><rect x="889" y="604" width="1" height="38" fill="#c0c0c0"/><rect x="897" y="604" width="1" height="41" fill="#c0c0c0"/><rect x="905" y="604" width="1" height="43" fill="#c0c0c0"/><rect x="913" y="604" width="1" height="48" fill="#c0c0c0"/><rect x="921" y="604" width="1" height="53" fill="#c0c0c0"/><rect x="929" y="604" width="1" height="53" fill="#c0c0c0"/><rect x="937" y="604" width="1" height="51" fill="#c0c0c0"/><rect x="945" y="604" width="1" height="52" fill="#c0c0c0"/><rect x="953" y="604" width="1" height="53" fill="#c0c0c0"/><rect x="961" y="604" width="1" height="50" fill="#c0c0c0"/><rect x="969" y="604" width="1" height="46" fill="#c0c0c0"/><rect x="977" y="604" width="1" height="42" fill="#c0c0c0"/><rect x="985" y="604" width="1" height="38" fill="#c0c0c0"/><rect x="993" y="604" width="1" height="36" fill="#c0c0c0"/><rect x="1001" y="604" width="1" height="34" fill="#c0c0c0"/><rect x="1009" y="604" width="1" height="33" fill="#c0c0c0"/><rect x="1017" y="604" width="1" height="29" fill="#c0c0c0"/><rect x="1025" y="604" width="1" height="26" fill="#c0c0c0"/><rect x="1033" y="604" width="1" height="20" fill="#c0c0c0"/><rect x="1041" y="604" width="1" height="13" fill="#c0c0c0"/><rect x="1049" y="604" width="1" height="10" fill="#c0c0c0"/><rect x="1057" y="604" width="1" height="7" fill="#c0c0c0"/><rect x="1065" y="604" width="1" height="1" fill="#c0c0c0"/><rect x="1073" y="603" width="1" height="2" fill="#c0c0c0"/><rect x="1081" y="603" width="1" height="2" fill="#c0c0c0"/><rect x="1089" y="604" width="1" height="1" fill="#c0c0c0"/><rect x="1097" y="604" width="1" height="1" fill="#c0c0c0"/><rect x="1105" y="604" width="1" height="4" fill="#c0c0c0"/><rect x="1113" y="604" width="1" height="8" fill="#c0c0c0"/><polyline points="1.5,661.1 9.5,661.9 17.5,661.5 25.5,660.3 33.5,657.4 41.5,653.7 49.5,648.5 57.5,642.8 65.5,636.2 73.5,628.5 81.5,619.8 89.5,613.2 97.5,605.4 105.5,600.3 113.5,595.5 121.5,592.7 129.5,590.5 137.5,589.5 145.5,589.5 153.5,591.0 161.5,592.7 169.5,593.7 177.5,595.2 185.5,596.8 193.5,596.8 201.5,595.8 209.5,594.1 217.5,591.7 225.5,589.4 233.5,586.9 241.5,585.9 249.5,585.9 257.5,586.9 265.5,589.0 273.5,592.1 281.5,596.2 289.5,601.3 297.5,607.1 305.5,612.5 313.5,616.7 321.5,618.8 329.5,620.0 337.5,620.0 345.5,619.2 353.5,617.8 361.5,616.1 369.5,614.1 377.5,612.2 385.5,609.9 393.5,608.9 401.5,608.9 409.5,609.5 417.5,609.9 425.5,610.5 433.5,613.0 441.5,615.7 449.5,619.2 457.5,622.9 465.5,625.4 473.5,628.0 481.5,629.1 489.5,629.7 497.5,630.9 505.5,630.9 513.5,629.5 521.5,627.5 529.5,624.9 537.5,622.9 545.5,620.8 553.5,619.2 561.5,616.7 569.5,614.3 577.5,612.2 585.5,611.0 593.5,609.5 601.5,608.9 609.5,608.1 617.5,608.1 625.5,606.9 633.5,606.0 641.5,606.0 649.5,606.0 657.5,605.8 665.5,604.8 673.5,603.8 681.5,603.0 689.5,601.7 697.5,598.9 705.5,596.5 713.5,595.5 721.5,593.1 729.5,591.0 737.5,589.5 745.5,589.0 753.5,589.0 761.5,590.0 769.5,592.7 777.5,595.8 785.5,600.3 793.5,605.8 801.5,609.1 809.5,614.7 817.5,619.2 825.5,623.5 833.5,628.0 841.5,631.1 849.5,633.2 857.5,634.8 865.5,636.9 873.5,637.7 881.5,638.9 889.5,639.9 897.5,641.0 905.5,642.4 913.5,644.1 921.5,645.9 929.5,647.1 937.5,649.0 945.5,651.7 953.5,652.7 961.5,654.1 969.5,654.7 977.5,654.7 985.5,653.7 993.5,651.2 1001.5,649.5 1009.5,648.0 1017.5,644.9 1025.5,642.0 1033.5,638.3 1041.5,635.2 1049.5,631.5 1057.5,627.5 1065.5,624.3 1073.5,619.8 1081.5,615.7 1089.5,613.2 1097.5,610.5 1105.5,609.1 1113.5,607.9" fill="none" stroke="#ff0000" stroke-width="1" stroke-dasharray="3 3"/></g><g clip-path="url(#c3)"><line x1="2" x2="1416" y1="715.5" y2="715.5" stroke="#c0c0c0" stroke-dasharray="3 3"/><line x1="2" x2="1416" y1="766.5" y2="766.5" stroke="#c0c0c0" stroke-dasharray="3 3"/><polyline points="1.5,773.4 9.5,754.9 17.5,739.5 25.5,738.5 33.5,735.8 41.5,734.0 49.5,732.8 57.5,730.9 65.5,728.9 73.5,729.9 81.5,729.9 89.5,728.9 97.5,735.8 105.5,732.8 113.5,737.5 121.5,738.9 129.5,739.5 137.5,746.7 145.5,742.2 153.5,750.8 161.5,735.8 169.5,735.8 177.5,738.5 185.5,739.5 193.5,725.8 201.5,723.7 209.5,727.2 217.5,728.9 225.5,735.8 233.5,731.3 241.5,750.4 249.5,752.5 257.5,753.9 265.5,750.4 273.5,756.0 281.5,748.8 289.5,749.8 297.5,747.5 305.5,742.5 313.5,741.0 321.5,744.1 329.5,736.9 337.5,736.9 345.5,747.8 353.5,743.2 361.5,738.9 369.5,737.1 377.5,732.8 385.5,741.0 393.5,748.8 401.5,752.9 409.5,748.2 417.5,748.8 425.5,749.8 433.5,757.5 441.5,759.1 449.5,752.9 457.5,754.9 465.5,748.2 473.5,749.2 481.5,744.1 489.5,747.8 497.5,744.1 505.5,744.1 513.5,741.0 521.5,743.2 529.5,733.8 537.5,740.2 545.5,744.7 553.5,744.7 561.5,737.5 569.5,733.8 577.5,744.7 585.5,744.5 593.5,741.0 601.5,738.9 609.5,738.9 617.5,749.8 625.5,737.9 633.5,739.9 641.5,741.0 649.5,741.0 657.5,737.1 665.5,735.8 673.5,727.8 681.5,737.9 689.5,729.9 697.5,729.9 705.5,729.9 713.5,731.9 721.5,729.9 729.5,736.9 737.5,736.9 745.5,740.5 753.5,748.8 761.5,762.8 769.5,761.7 777.5,756.0 785.5,754.5 793.5,751.5 801.5,752.9 809.5,758.5 817.5,762.8 825.5,756.0 833.5,762.8 841.5,757.5 849.5,753.5 857.5,755.5 865.5,756.5 873.5,753.9 881.5,757.0 889.5,762.1 897.5,764.8 905.5,765.8 913.5,770.4 921.5,773.9 929.5,762.1 937.5,758.0 945.5,762.8 953.5,763.8 961.5,758.5 969.5,748.8 977.5,749.8 985.5,751.5 993.5,749.8 1001.5,751.5 1009.5,754.9 1017.5,744.7 1025.5,746.7 1033.5,736.9 1041.5,731.9 1049.5,737.9 1057.5,736.9 1065.5,729.9 1073.5,733.0 1081.5,741.5 1089.5,741.5 1097.5,748.8 1105.5,752.9 1113.5,753.9" fill="none" stroke="#1e90ff" stroke-width="1" /></g><rect x="1417" y="37" width="2" height="1" fill="#000"/><rect x="1417" y="70" width="2" height="1" fill="#000"/><rect x="1417" y="103" width="2" height="1" fill="#000"/><rect x="1417" y="136" width="2" height="1" fill="#000"/><rect x="1417" y="169" width="2" height="1" fill="#000"/><rect x="1417" y="202" width="2" height="1" fill="#000"/><rect x="1417" y="235" width="2" height="1" fill="#000"/><rect x="1417" y="268" width="2" height="1" fill="#000"/><rect x="1417" y="301" width="2" height="1" fill="#000"/><rect x="1417" y="334" width="2" height="1" fill="#000"/><rect x="1417" y="367" width="2" height="1" fill="#000"/><rect x="1417" y="400" width="2" height="1" fill="#000"/><rect x="1417" y="433" width="2" height="1" fill="#000"/><rect x="1417" y="466" width="2" height="1" fill="#000"/><rect x="1417" y="499" width="2" height="1" fill="#000"/><rect x="1417" y="532" width="2" height="1" fill="#000"/><rect x="1417" y="565" width="2" height="1" fill="#000"/><rect x="1417" y="572" width="1" height="1" fill="#000"/><rect x="1417" y="604" width="1" height="1" fill="#000"/><rect x="1417" y="672" width="1" height="1" fill="#000"/><rect x="1417" y="677" width="1" height="1" fill="#000"/><rect x="1417" y="715" width="1" height="1" fill="#000"/><rect x="1417" y="766" width="1" height="1" fill="#000"/><rect x="1417" y="803" width="1" height="1" fill="#000"/><rect x="1" y="806" width="1" height="3" fill="#000"/><rect x="65" y="806" width="1" height="3" fill="#000"/><rect x="129" y="806" width="1" height="3" fill="#000"/><rect x="193" y="806" width="1" height="3" fill="#000"/><rect x="257" y="806" width="1" height="3" fill="#000"/><rect x="321" y="806" width="1" height="3" fill="#000"/><rect x="385" y="806" width="1" height="3" fill="#000"/><rect x="449" y="806" width="1" height="3" fill="#000"/><rect x="513" y="806" width="1" height="3" fill="#000"/><rect x="577" y="806" width="1" height="3" fill="#000"/><rect x="641" y="806" width="1" height="3" fill="#000"/><rect x="705" y="806" width="1" height="3" fill="#000"/><rect x="769" y="806" width="1" height="3" fill="#000"/><rect x="833" y="806" width="1" height="3" fill="#000"/><rect x="897" y="806" width="1" height="3" fill="#000"/><rect x="961" y="806" width="1" height="3" fill="#000"/><rect x="1025" y="806" width="1" height="3" fill="#000"/><rect x="1089" y="806" width="1" height="3" fill="#000"/><rect x="1418" y="468" width="41" height="11" fill="#000"/></g></svg>
<div class="a" style="left:17px;top:34.1px;letter-spacing:.2px" id="ttl">AUDUSD-,Daily</div>
<div class="a" style="left:91px;top:34.1px" id="ttl2">0.69107 0.69129 0.69064 0.69068</div>
<div class="a" style="left:5px;top:576px" id="mlab">MACD(12,26,9) -0.000790 -0.000269</div>
<div class="a" style="left:5px;top:680.5px" id="rlab">RSI(14) 40.4911</div>
<div class="a ax" style="top:33.5px">0.73115</div>
<div class="a ax" style="top:66.5px">0.72810</div>
<div class="a ax" style="top:99.5px">0.72505</div>
<div class="a ax" style="top:132.5px">0.72200</div>
<div class="a ax" style="top:165.5px">0.71890</div>
<div class="a ax" style="top:198.5px">0.71585</div>
<div class="a ax" style="top:231.5px">0.71280</div>
<div class="a ax" style="top:264.5px">0.70970</div>
<div class="a ax" style="top:297.5px">0.70665</div>
<div class="a ax" style="top:330.5px">0.70360</div>
<div class="a ax" style="top:363.5px">0.70055</div>
<div class="a ax" style="top:396.5px">0.69745</div>
<div class="a ax" style="top:429.5px">0.69440</div>
<div class="a ax" style="top:462.5px">0.69130</div>
<div class="a ax" style="top:495.5px">0.68825</div>
<div class="a ax" style="top:528.5px">0.68520</div>
<div class="a ax" style="top:561.5px">0.68210</div>
<div class="a ax" style="left:1420px;top:573.8px">0.003035</div>
<div class="a ax" style="left:1420px;top:601.0px">0.00</div>
<div class="a ax" style="left:1420px;top:662.9px">-0.006311</div>
<div class="a ax" style="left:1420px;top:679.0px">100</div>
<div class="a ax" style="left:1420px;top:712.0px">70</div>
<div class="a ax" style="left:1420px;top:763.1px">30</div>
<div class="a ax" style="left:1420px;top:795.0px">0</div>
<div class="a ax w" style="left:1422px;top:469.7px">0.69068</div>
<div class="a dt" style="left:0px">2 Jan 2019</div>
<div class="a dt" style="left:64px">11 Jan 2019</div>
<div class="a dt" style="left:128px">21 Jan 2019</div>
<div class="a dt" style="left:192px">30 Jan 2019</div>
<div class="a dt" style="left:256px">8 Feb 2019</div>
<div class="a dt" style="left:320px">18 Feb 2019</div>
<div class="a dt" style="left:384px">27 Feb 2019</div>
<div class="a dt" style="left:448px">8 Mar 2019</div>
<div class="a dt" style="left:512px">18 Mar 2019</div>
<div class="a dt" style="left:576px">27 Mar 2019</div>
<div class="a dt" style="left:640px">5 Apr 2019</div>
<div class="a dt" style="left:704px">15 Apr 2019</div>
<div class="a dt" style="left:768px">25 Apr 2019</div>
<div class="a dt" style="left:832px">5 May 2019</div>
<div class="a dt" style="left:896px">14 May 2019</div>
<div class="a dt" style="left:960px">23 May 2019</div>
<div class="a dt" style="left:1024px">2 Jun 2019</div>
<div class="a dt" style="left:1088px">11 Jun 2019</div>
<div class="a" style="left:2px;top:47px;width:223px;height:68px;background:#fff"></div>
<div class="a pn" style="left:4px;top:49px;width:52px;height:64px"></div>
<div class="a pn" style="left:171px;top:49px;width:52px;height:64px"></div>
<div class="a" style="left:4px;top:74px;width:109px;height:39px;background:linear-gradient(#3535d6,#0505a6)"></div>
<div class="a" style="left:115px;top:74px;width:108px;height:39px;background:linear-gradient(#3535d6,#0505a6)"></div>
<div class="a" style="left:8px;top:73px;width:44px;height:1px;background:#8a8af0"></div>
<div class="a" style="left:175px;top:73px;width:44px;height:1px;background:#8a8af0"></div>
<div class="a w sx" style="left:16px;top:55px;font-size:12.5px;transform:scaleX(.86)">SELL</div>
<div class="a w sx" style="left:184.5px;top:55px;font-size:12.5px;transform:scaleX(.92)">BUY</div>
<div class="a" style="left:58px;top:49px;width:110px;height:21px;border:1px solid #b4b4b4;box-sizing:border-box;background:#fff"></div>
<div class="a" style="left:59px;top:50px;width:20px;height:19px;background:linear-gradient(#f2f2f2,#cfcfcf);border-right:1px solid #b4b4b4"></div>
<div class="a" style="left:147px;top:50px;width:20px;height:19px;background:linear-gradient(#f2f2f2,#cfcfcf);border-left:1px solid #b4b4b4"></div>
<div class="a" style="left:65px;top:58px;width:0;height:0;border:3.5px solid transparent;border-top:4px solid #5560c0;border-bottom:none"></div>
<div class="a" style="left:154px;top:57px;width:0;height:0;border:3.5px solid transparent;border-bottom:4px solid #5560c0;border-top:none"></div>
<div class="a" style="left:100px;top:54px;width:44px;text-align:right;font-size:12.5px">1.00</div>
<div class="a w" style="left:24px;top:94px;font-size:12px;font-weight:bold">0.69</div>
<div class="a w sx" style="left:52px;top:74.3px;font-size:35.5px;transform:scaleX(.89)" id="bigL">06</div>
<div class="a w" style="left:91.5px;top:78px;font-size:12px;font-weight:bold">8</div>
<div class="a w" style="left:134px;top:94px;font-size:12px;font-weight:bold">0.69</div>
<div class="a w sx" style="left:162px;top:74.3px;font-size:35.5px;transform:scaleX(.89)" id="bigR">08</div>
<div class="a w" style="left:202.5px;top:78px;font-size:12px;font-weight:bold">6</div>

<div class="a" id="act"></div>
<div class="a tab" style="left:13px">EURUSD-,Daily</div>
<div class="a tab" style="left:120px;color:#000">AUDUSD-,Daily</div>
<div class="a tab" style="left:230px">USDCHF-,Daily</div>
<div class="a tab" style="left:337px">USDCAD-,Daily</div>
<div class="a tab" style="left:446px">USDCNH-,Daily</div>
<div class="a tab" style="left:557px">EURCHF-,Weekly</div>
<div class="a sp" style="left:326px"></div>
<div class="a sp" style="left:434px"></div>
<div class="a sp" style="left:546px"></div>
<div class="a sp" style="left:666px"></div>
<div class="a" style="left:1431px;top:834px;width:0;height:0;border:3px solid transparent;border-right:4px solid #a0a0a0;border-left:none"></div>
<div class="a" style="left:1451px;top:834px;width:0;height:0;border:3px solid transparent;border-left:4px solid #a0a0a0;border-right:none"></div>
</body></html>
